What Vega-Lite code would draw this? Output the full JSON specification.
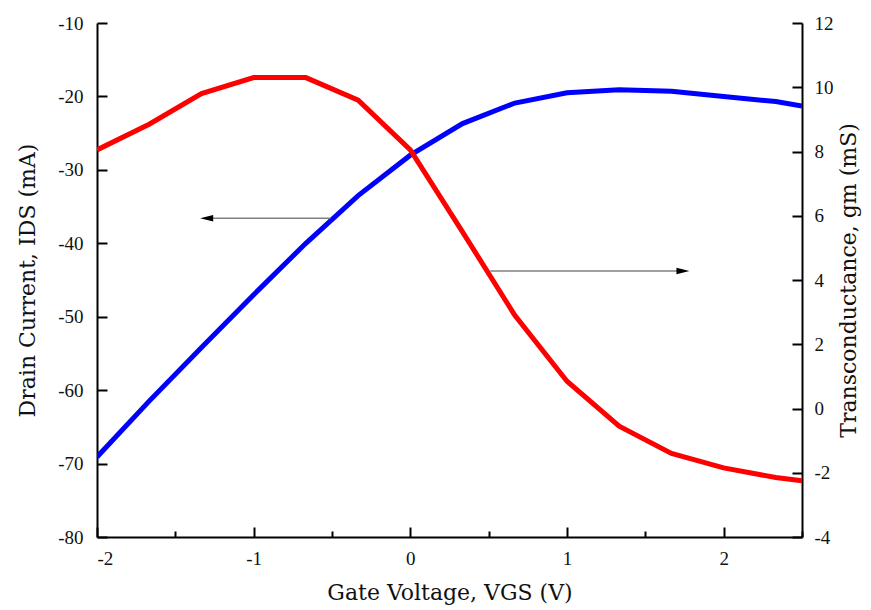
{
  "$schema": "https://vega.github.io/schema/vega-lite/v6.json",
  "width": 705,
  "height": 514,
  "autosize": {"type": "none"},
  "padding": {"left": 97, "top": 23, "right": 69, "bottom": 73},
  "background": "white",
  "config": {
    "view": {"stroke": null},
    "font": "Liberation Serif",
    "axis": {
      "domainColor": "black",
      "domainWidth": 2,
      "tickColor": "black",
      "tickWidth": 2,
      "grid": false,
      "labelFont": "Liberation Serif",
      "labelFontSize": 19,
      "labelColor": "#111",
      "titleFont": "DejaVu Serif",
      "titleFontSize": 22,
      "titleFontWeight": "normal",
      "titleColor": "#111"
    }
  },
  "datasets": {
    "current": [
      {"vgs": -2.0, "ids": -69.1},
      {"vgs": -1.667, "ids": -61.5},
      {"vgs": -1.333, "ids": -54.2},
      {"vgs": -1.0, "ids": -47.0},
      {"vgs": -0.667, "ids": -40.0},
      {"vgs": -0.333, "ids": -33.5},
      {"vgs": 0.0, "ids": -28.0},
      {"vgs": 0.333, "ids": -23.7},
      {"vgs": 0.667, "ids": -20.9},
      {"vgs": 1.0, "ids": -19.5},
      {"vgs": 1.333, "ids": -19.1},
      {"vgs": 1.667, "ids": -19.3},
      {"vgs": 2.0, "ids": -20.0},
      {"vgs": 2.333, "ids": -20.7},
      {"vgs": 2.5, "ids": -21.3}
    ],
    "gm": [
      {"vgs": -2.0, "gm": 8.05},
      {"vgs": -1.667, "gm": 8.85},
      {"vgs": -1.333, "gm": 9.8},
      {"vgs": -1.0, "gm": 10.3},
      {"vgs": -0.667, "gm": 10.3},
      {"vgs": -0.333, "gm": 9.6},
      {"vgs": 0.0, "gm": 8.05},
      {"vgs": 0.333, "gm": 5.5},
      {"vgs": 0.667, "gm": 2.9},
      {"vgs": 1.0, "gm": 0.85},
      {"vgs": 1.333, "gm": -0.55},
      {"vgs": 1.667, "gm": -1.4},
      {"vgs": 2.0, "gm": -1.85},
      {"vgs": 2.333, "gm": -2.15},
      {"vgs": 2.5, "gm": -2.25}
    ],
    "arrowLeft": [{"from": -0.51, "to": -1.3, "head": -1.3, "level": -36.6}],
    "arrowRight": [{"from": 0.51, "to": 1.74, "head": 1.74, "level": 4.28}]
  },
  "layer": [
    {
      "layer": [
        {
          "data": {"name": "current"},
          "mark": {"type": "line", "color": "#0000ff", "strokeWidth": 5, "clip": true},
          "encoding": {
            "x": {
              "field": "vgs",
              "type": "quantitative",
              "scale": {"domain": [-2, 2.5], "nice": false},
              "axis": {
                "title": "Gate Voltage, VGS (V)",
                "values": [-2, -1.5, -1, -0.5, 0, 0.5, 1, 1.5, 2, 2.5],
                "labelExpr": "datum.value % 1 === 0 ? '' + datum.value : ''",
                "tickSize": {"condition": {"test": "datum.value % 1 === 0", "value": -10}, "value": -6},
                "labelPadding": 22,
                "titlePadding": 14
              }
            },
            "y": {
              "field": "ids",
              "type": "quantitative",
              "scale": {"domain": [-80, -10], "nice": false},
              "axis": {
                "title": "Drain Current, IDS (mA)",
                "orient": "left",
                "values": [-80, -75, -70, -65, -60, -55, -50, -45, -40, -35, -30, -25, -20, -15, -10],
                "labelExpr": "datum.value % 10 === 0 ? '' + datum.value : ''",
                "tickSize": {"condition": {"test": "datum.value % 10 === 0", "value": -10}, "value": -6},
                "labelPadding": 24,
                "titlePadding": 18
              }
            }
          }
        },
        {
          "data": {"name": "arrowLeft"},
          "mark": {"type": "rule", "color": "#808080", "strokeWidth": 1.5},
          "encoding": {
            "x": {"field": "from", "type": "quantitative"},
            "x2": {"field": "to"},
            "y": {"field": "level", "type": "quantitative"}
          }
        },
        {
          "data": {"name": "arrowLeft"},
          "mark": {"type": "point", "filled": true, "color": "black", "opacity": 1, "shape": "M -1 0 L 1 -0.5 L 1 0.5 Z", "size": 170},
          "encoding": {
            "x": {"field": "head", "type": "quantitative"},
            "y": {"field": "level", "type": "quantitative"}
          }
        }
      ]
    },
    {
      "layer": [
        {
          "data": {"name": "gm"},
          "mark": {"type": "line", "color": "#ff0000", "strokeWidth": 5, "clip": true},
          "encoding": {
            "x": {"field": "vgs", "type": "quantitative"},
            "y": {
              "field": "gm",
              "type": "quantitative",
              "scale": {"domain": [-4, 12], "nice": false},
              "axis": {
                "title": "Transconductance, gm (mS)",
                "orient": "right",
                "titleAngle": -90,
                "titleBaseline": "bottom",
                "values": [-4, -3, -2, -1, 0, 1, 2, 3, 4, 5, 6, 7, 8, 9, 10, 11, 12],
                "labelExpr": "datum.value % 2 === 0 ? '' + datum.value : ''",
                "tickSize": {"condition": {"test": "datum.value % 2 === 0", "value": -10}, "value": -6},
                "labelPadding": 22,
                "titlePadding": 27
              }
            }
          }
        },
        {
          "data": {"name": "arrowRight"},
          "mark": {"type": "rule", "color": "#808080", "strokeWidth": 1.5},
          "encoding": {
            "x": {"field": "from", "type": "quantitative"},
            "x2": {"field": "to"},
            "y": {"field": "level", "type": "quantitative"}
          }
        },
        {
          "data": {"name": "arrowRight"},
          "mark": {"type": "point", "filled": true, "color": "black", "opacity": 1, "shape": "M 1 0 L -1 -0.5 L -1 0.5 Z", "size": 170},
          "encoding": {
            "x": {"field": "head", "type": "quantitative"},
            "y": {"field": "level", "type": "quantitative"}
          }
        }
      ]
    }
  ],
  "resolve": {"scale": {"y": "independent"}, "axis": {"y": "independent"}}
}
